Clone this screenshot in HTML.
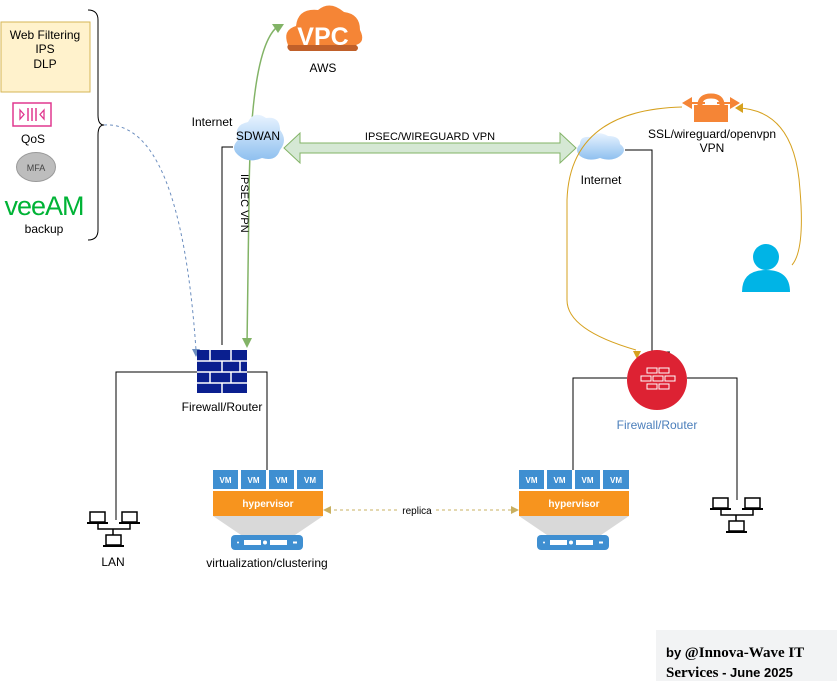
<!DOCTYPE html>
<html><head><meta charset="utf-8"><style>
html,body{margin:0;padding:0;background:#fff;width:837px;height:681px;overflow:hidden}
svg{display:block}
</style></head><body>
<svg width="837" height="681" viewBox="0 0 837 681" xmlns="http://www.w3.org/2000/svg" font-family="Liberation Sans, Arial, sans-serif" font-size="11">
<defs>
<linearGradient id="cl" x1="0" y1="0" x2="0" y2="1"><stop offset="0" stop-color="#e8f3ff"/><stop offset="1" stop-color="#8fc0ef"/></linearGradient>
</defs>
<!-- brace -->
<path d="M88,10 Q98,10 98,20 L98,115 Q98,125 104,125 Q98,125 98,135 L98,230 Q98,240 88,240" fill="none" stroke="#000" stroke-width="1"/>
<!-- yellow box -->
<rect x="1" y="22" width="89" height="70" fill="#fff2cc" stroke="#d6b656"/>
<text x="45" y="39" text-anchor="middle" font-size="12">Web Filtering</text>
<text x="45" y="53" text-anchor="middle" font-size="12">IPS</text>
<text x="45" y="68" text-anchor="middle" font-size="12">DLP</text>
<!-- QoS -->
<rect x="13" y="103" width="38" height="23" fill="#fff" stroke="#e0388f" stroke-width="1.5"/>
<path d="M20,110 L24,114.5 L20,119Z M44,110 L40,114.5 L44,119Z" fill="none" stroke="#e0388f" stroke-width="1.3"/>
<path d="M28,108 V121 M32,108 V121 M36,108 V121" stroke="#e0388f" stroke-width="1.5"/>
<text x="33" y="143" text-anchor="middle" font-size="12">QoS</text>
<ellipse cx="36" cy="167" rx="19.5" ry="14.5" fill="#bdbdbd" stroke="#999"/>
<text x="36" y="171" text-anchor="middle" font-size="9" fill="#444">MFA</text>
<text x="44" y="215" text-anchor="middle" font-size="27" fill="#00b336" style="letter-spacing:-1px">veeAM</text>
<text x="44" y="233" text-anchor="middle" font-size="12">backup</text>
<!-- dashed blue curve -->
<path d="M104,125 Q180,120 196,350" fill="none" stroke="#6c8ebf" stroke-width="1" stroke-dasharray="3,3"/>
<path d="M192,349 L200,349 L196,357Z" fill="#6c8ebf"/>
<!-- VPC cloud -->
<path d="M288,45 Q282,30 296,26 Q298,8 318,10 Q330,0 344,12 Q360,14 360,30 Q366,42 356,45Z" fill="#f58536"/>
<path d="M288,45 L356,45 Q360,48 356,51 L290,51 Q286,48 288,45Z" fill="#c0602a"/>
<text x="323" y="45" text-anchor="middle" font-size="25" fill="#fff" font-weight="bold" style="font-family:'Liberation Sans Narrow','Liberation Sans',sans-serif">VPC</text>
<text x="323" y="72" text-anchor="middle" font-size="12">AWS</text>
<!-- green curved arrow -->
<path d="M247,345 L249,200 Q250,50 277,27" fill="none" stroke="#82b366" stroke-width="1.5"/>
<path d="M284,24 L272,24 L278,33Z" fill="#82b366"/>
<path d="M242,338 L252,338 L247,348Z" fill="#82b366"/>
<!-- left lines -->
<path d="M233,147 H222 V345" fill="none" stroke="#000" stroke-width="1"/>
<!-- SDWAN cloud -->
<path d="M238,155 Q230,148 238,140 Q233,125 248,122 Q254,110 266,118 Q280,116 280,130 Q288,140 280,150 Q276,162 262,158 Q248,164 238,155Z" fill="url(#cl)"/>
<text x="212" y="126" text-anchor="middle" font-size="12">Internet</text>
<text x="258" y="140" text-anchor="middle" font-size="12">SDWAN</text>
<text transform="translate(241,174) rotate(90)" font-size="11">IPSEC VPN</text>
<!-- double arrow -->
<path d="M284,148 L300,133 L300,143 L560,143 L560,133 L576,148 L560,163 L560,153 L300,153 L300,163Z" fill="#d5e8d4" stroke="#82b366" stroke-width="1"/>
<rect x="362" y="130" width="136" height="12" fill="#fff"/>
<text x="430" y="140" text-anchor="middle" font-size="11">IPSEC/WIREGUARD VPN</text>
<!-- right cloud -->
<path d="M580,156 Q574,150 580,144 Q580,136 590,137 Q598,130 608,136 Q620,136 620,144 Q628,150 620,156 Q612,162 600,158 Q588,162 580,156Z" fill="url(#cl)"/>
<text x="601" y="184" text-anchor="middle" font-size="12">Internet</text>
<path d="M625,150 H652 V352 H670" fill="none" stroke="#000" stroke-width="1"/>
<!-- lock -->
<path d="M684,103 L738,103" stroke="#f58536" stroke-width="2"/>
<path d="M682,103 L692,97 L692,109Z M740,103 L730,97 L730,109Z" fill="#f58536"/>
<path d="M700,105 Q700,96 711,96 Q722,96 722,105" fill="none" stroke="#f58536" stroke-width="5"/>
<rect x="694" y="105" width="34" height="17" fill="#f58536"/>
<rect x="705" y="101" width="12" height="3" fill="#fff"/>
<text x="712" y="138" text-anchor="middle" font-size="12">SSL/wireguard/openvpn</text>
<text x="712" y="152" text-anchor="middle" font-size="12">VPN</text>
<!-- orange curves -->
<path d="M682,107 Q570,110 567,200 L567,300 Q567,330 636,350" fill="none" stroke="#d6a11f" stroke-width="1"/>
<path d="M633,351 L641,351 L637,359Z" fill="#d6a11f"/>
<path d="M792,265 Q805,250 800,190 Q795,110 738,108" fill="none" stroke="#d6a11f" stroke-width="1"/>
<path d="M735,108 L743,103 L743,113Z" fill="#d6a11f"/>
<!-- user -->
<circle cx="766" cy="257" r="13" fill="#00b4e6"/>
<path d="M742,292 Q742,270 766,270 Q790,270 790,292Z" fill="#00b4e6"/>
<!-- left firewall -->
<rect x="197" y="350" width="50" height="43" fill="#0a1f8f"/>
<g stroke="#fff" stroke-width="1.5">
<path d="M197,361 H247 M197,372 H247 M197,383 H247"/>
<path d="M210,350 V361 M231,350 V361 M222,361 V372 M240,361 V372 M210,372 V383 M231,372 V383 M222,383 V393"/>
</g>
<text x="222" y="411" text-anchor="middle" font-size="12">Firewall/Router</text>
<path d="M197,372 H116 V520 M247,372 H267 V470" fill="none" stroke="#000" stroke-width="1"/>
<!-- LAN icons -->
<g id="lan">
<rect x="90" y="512" width="15" height="10" fill="#fff" stroke="#000" stroke-width="1.5"/><rect x="87" y="522" width="21" height="2" fill="#000"/>
<rect x="122" y="512" width="15" height="10" fill="#fff" stroke="#000" stroke-width="1.5"/><rect x="119" y="522" width="21" height="2" fill="#000"/>
<rect x="106" y="535" width="15" height="10" fill="#fff" stroke="#000" stroke-width="1.5"/><rect x="103" y="545" width="21" height="2" fill="#000"/>
<path d="M98,524 V529 H130 V524 M113,529 V535" fill="none" stroke="#000" stroke-width="1.5"/>
</g>
<text x="113" y="566" text-anchor="middle" font-size="12">LAN</text>
<use href="#lan" transform="translate(623,-14)"/>
<!-- hypervisors -->
<g id="hv">
<rect x="213" y="470" width="25" height="19" fill="#3f8fd1"/><rect x="241" y="470" width="25" height="19" fill="#3f8fd1"/><rect x="269" y="470" width="25" height="19" fill="#3f8fd1"/><rect x="297" y="470" width="26" height="19" fill="#3f8fd1"/>
<text x="225.5" y="483" text-anchor="middle" font-size="8" font-weight="bold" fill="#fff">VM</text>
<text x="253.5" y="483" text-anchor="middle" font-size="8" font-weight="bold" fill="#fff">VM</text>
<text x="281.5" y="483" text-anchor="middle" font-size="8" font-weight="bold" fill="#fff">VM</text>
<text x="310" y="483" text-anchor="middle" font-size="8" font-weight="bold" fill="#fff">VM</text>
<rect x="213" y="491" width="110" height="25" fill="#f7941e"/>
<text x="268" y="507" text-anchor="middle" font-size="10" font-weight="bold" fill="#fff">hypervisor</text>
<path d="M213,516 H323 L295,535 H241Z" fill="#d9d9d9"/>
<rect x="231" y="535" width="72" height="15" rx="4" fill="#3f8fd1"/>
<rect x="244" y="540" width="17" height="5" fill="#fff"/><rect x="270" y="540" width="17" height="5" fill="#fff"/>
<circle cx="265" cy="542.5" r="2" fill="#fff"/><circle cx="238" cy="542.5" r="1" fill="#fff"/><rect x="293" y="541.5" width="4" height="2" fill="#fff"/>
</g>
<use href="#hv" transform="translate(306,0)"/>
<text x="267" y="567" text-anchor="middle" font-size="12">virtualization/clustering</text>
<!-- replica -->
<path d="M328,510 H514" stroke="#c9b060" stroke-width="1" stroke-dasharray="3,3"/>
<path d="M323,510 L331,506 L331,514Z M519,510 L511,506 L511,514Z" fill="#c9b060"/>
<rect x="398" y="504" width="38" height="12" fill="#fff"/>
<text x="417" y="514" text-anchor="middle" font-size="10">replica</text>
<!-- red firewall -->
<path d="M627,378 H573 V470 M687,378 H737 V500" fill="none" stroke="#000" stroke-width="1"/>
<circle cx="657" cy="380" r="30" fill="#dd2233"/>
<g fill="none" stroke="#fff" stroke-width="1">
<rect x="647" y="368" width="10" height="5"/><rect x="659" y="368" width="10" height="5"/>
<rect x="641" y="376" width="10" height="5"/><rect x="653" y="376" width="10" height="5"/><rect x="665" y="376" width="10" height="5"/>
<rect x="647" y="384" width="10" height="5"/><rect x="659" y="384" width="10" height="5"/>
</g>
<text x="657" y="429" text-anchor="middle" font-size="12" fill="#4a7ebb">Firewall/Router</text>
<!-- credit -->
<rect x="656" y="630" width="181" height="51" fill="#f2f3f4"/>
<text x="666" y="657" font-size="13" font-weight="bold">by <tspan style="font-family:'Liberation Serif',serif" font-size="15">@Innova-Wave IT</tspan></text>
<text x="666" y="677" font-size="13" font-weight="bold"><tspan style="font-family:'Liberation Serif',serif" font-size="15">Services</tspan> - June 2025</text>
</svg>
</body></html>
